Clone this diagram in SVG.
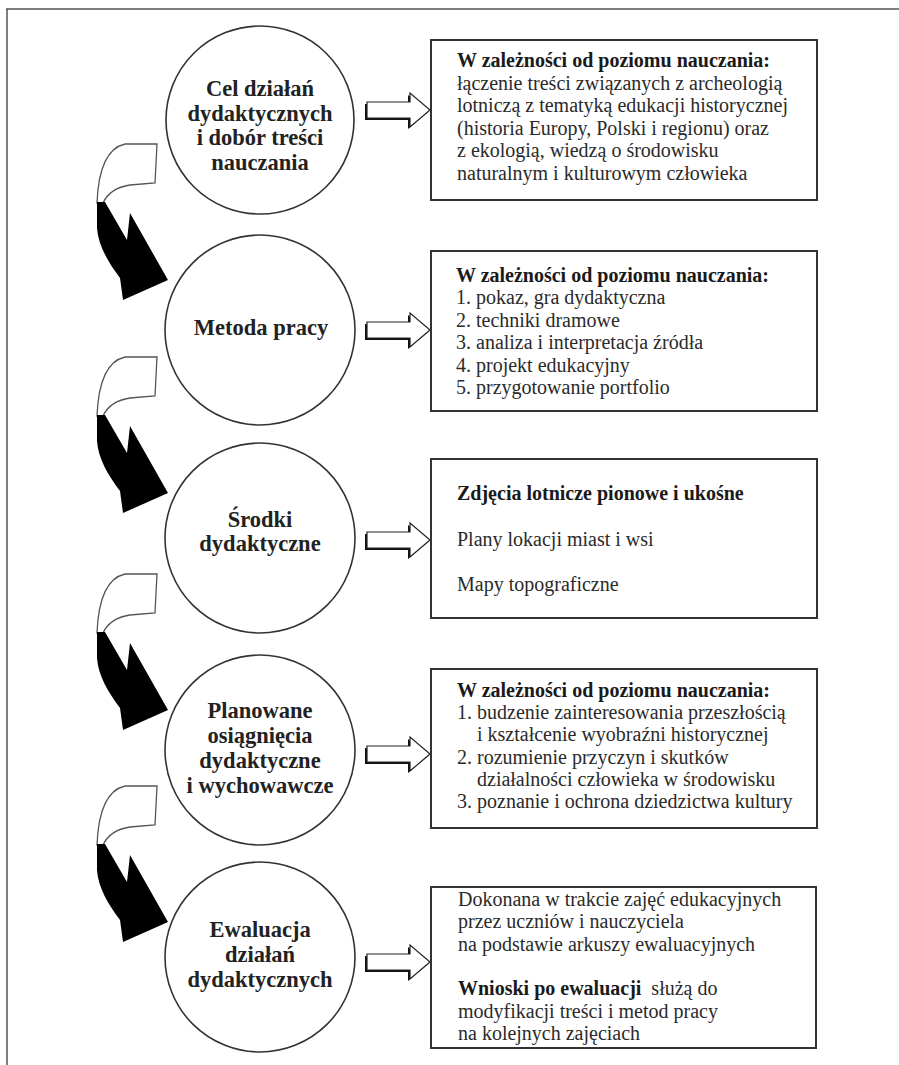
<svg xmlns="http://www.w3.org/2000/svg" xmlns:xlink="http://www.w3.org/1999/xlink" width="899" height="1065" viewBox="0 0 899 1065">
<style>
.circ{fill:#fff;stroke:#333;stroke-width:1.6}
.box{fill:#fff;stroke:#333;stroke-width:2}
.ct{font-family:"Liberation Serif",serif;font-weight:bold;font-size:22.5px;fill:#222;text-anchor:middle}
.bt{font-family:"Liberation Serif",serif;font-size:20px;fill:#2a2a2a}
.b{font-weight:bold;fill:#1a1a1a}
.wp{fill:#fff;stroke:#555;stroke-width:1.3}
.bp{fill:#000}
.border{stroke:#555;stroke-width:1.5;fill:none}
</style>
<defs>
<g id="blockArrow">
<polygon points="365,-6 408,-6 408,-15 428,2 408,19 408,10 365,10" fill="#111"/>
<polygon points="367,-8 410,-8 410,-17 430,0 410,17 410,8 367,8" fill="#fff" stroke="#222" stroke-width="1.2"/>
</g>
<g id="curveArrow">
<path class="wp" d="M157,144 L125,144 Q99,150 97,203 L103,203 Q110,188 130,185 L155,183 Z"/>
<path class="bp" d="M97,202 L105,202 L127,240 L130,213 L168,280 L123,300 L120,278 C108,262 98,245 97,228 Z"/>
</g>
</defs>
<rect width="899" height="1065" fill="#fff"/>
<path class="border" d="M6,9 H899 M7,9 V1065"/>

<g id="connectors">
<use xlink:href="#curveArrow"/>
<use xlink:href="#curveArrow" transform="translate(0,213)"/>
<use xlink:href="#curveArrow" transform="translate(0,430)"/>
<use xlink:href="#curveArrow" transform="translate(0,642)"/>
<use xlink:href="#blockArrow" transform="translate(0,110)"/>
<use xlink:href="#blockArrow" transform="translate(0,330)"/>
<use xlink:href="#blockArrow" transform="translate(0,540)"/>
<use xlink:href="#blockArrow" transform="translate(0,754)"/>
<use xlink:href="#blockArrow" transform="translate(0,962)"/>
</g>

<g id="node-cel">
<circle class="circ" cx="260" cy="120" r="94"/>
<text class="ct" x="260" y="96">Cel działań</text>
<text class="ct" x="260" y="120.5">dydaktycznych</text>
<text class="ct" x="260" y="145">i dobór treści</text>
<text class="ct" x="260" y="169.5">nauczania</text>
</g>
<g id="node-metoda">
<circle class="circ" cx="260" cy="330" r="95"/>
<text class="ct" x="261" y="335">Metoda pracy</text>
</g>
<g id="node-srodki">
<circle class="circ" cx="260" cy="538" r="95"/>
<text class="ct" x="260" y="527">Środki</text>
<text class="ct" x="260" y="551">dydaktyczne</text>
</g>
<g id="node-planowane">
<circle class="circ" cx="260" cy="750" r="95"/>
<text class="ct" x="260" y="718">Planowane</text>
<text class="ct" x="260" y="743">osiągnięcia</text>
<text class="ct" x="260" y="768">dydaktyczne</text>
<text class="ct" x="260" y="793">i wychowawcze</text>
</g>
<g id="node-ewaluacja">
<circle class="circ" cx="260" cy="957" r="95"/>
<text class="ct" x="260" y="937">Ewaluacja</text>
<text class="ct" x="260" y="962">działań</text>
<text class="ct" x="260" y="987">dydaktycznych</text>
</g>

<g id="box-tresci">
<rect class="box" x="431" y="40" width="386" height="160"/>
<text class="bt b" x="457" y="67">W zależności od poziomu nauczania:</text>
<text class="bt" x="457" y="89.5">łączenie treści związanych z archeologią</text>
<text class="bt" x="457" y="112">lotniczą z tematyką edukacji historycznej</text>
<text class="bt" x="457" y="134.5">(historia Europy, Polski i regionu) oraz</text>
<text class="bt" x="457" y="157">z ekologią, wiedzą o środowisku</text>
<text class="bt" x="457" y="179.5">naturalnym i kulturowym człowieka</text>
</g>
<g id="box-metoda">
<rect class="box" x="431" y="251" width="386" height="160"/>
<text class="bt b" x="456" y="281.5">W zależności od poziomu nauczania:</text>
<text class="bt" x="456" y="304">1. pokaz, gra dydaktyczna</text>
<text class="bt" x="456" y="326.5">2. techniki dramowe</text>
<text class="bt" x="456" y="349">3. analiza i interpretacja źródła</text>
<text class="bt" x="456" y="371.5">4. projekt edukacyjny</text>
<text class="bt" x="456" y="394">5. przygotowanie portfolio</text>
</g>
<g id="box-srodki">
<rect class="box" x="431" y="459" width="386" height="159"/>
<text class="bt b" x="457" y="500">Zdjęcia lotnicze pionowe i ukośne</text>
<text class="bt" x="457" y="545.5">Plany lokacji miast i wsi</text>
<text class="bt" x="457" y="591">Mapy topograficzne</text>
</g>
<g id="box-osiagniecia">
<rect class="box" x="431" y="669" width="386" height="159"/>
<text class="bt b" x="457" y="697">W zależności od poziomu nauczania:</text>
<text class="bt" x="457" y="719">1. budzenie zainteresowania przeszłością</text>
<text class="bt" x="477" y="741.3">i kształcenie wyobraźni historycznej</text>
<text class="bt" x="457" y="763.6">2. rozumienie przyczyn i skutków</text>
<text class="bt" x="477" y="785.9">działalności człowieka w środowisku</text>
<text class="bt" x="457" y="808.2">3. poznanie i ochrona dziedzictwa kultury</text>
</g>
<g id="box-ewaluacja">
<rect class="box" x="431" y="887" width="385" height="161"/>
<text class="bt" x="458" y="906">Dokonana w trakcie zajęć edukacyjnych</text>
<text class="bt" x="458" y="928.3">przez uczniów i nauczyciela</text>
<text class="bt" x="458" y="950.6">na podstawie arkuszy ewaluacyjnych</text>
<text class="bt" x="458" y="995.2"><tspan class="b">Wnioski po ewaluacji</tspan><tspan dx="10">służą do</tspan></text>
<text class="bt" x="458" y="1017.5">modyfikacji treści i metod pracy</text>
<text class="bt" x="458" y="1039.8">na kolejnych zajęciach</text>
</g>
</svg>
